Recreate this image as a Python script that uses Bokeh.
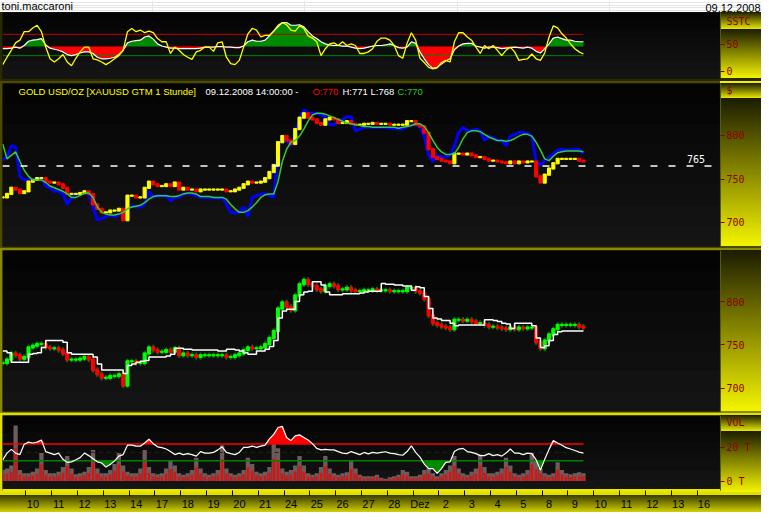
import numpy as np
from bokeh.plotting import figure
from bokeh.layouts import column
from bokeh.models import Range1d, FixedTicker, Label, BoxAnnotation, ColumnDataSource, Span
from bokeh.embed import file_html
from bokeh.resources import INLINE

# ---------------- data ----------------
day_labels = ["10", "11", "12", "13", "14", "17", "18", "19", "20", "21", "24", "25", "26",
              "27", "28", "Dez", "2", "3", "4", "5", "8", "9", "10", "11", "12", "13", "16"]

start_day = -0.9          # first bar, in trading days before "10"
step_hours = 4            # one value every 4 hours

close = [729, 733, 740, 738, 734, 736, 747, 749, 751, 751, 747, 746,
         746, 744, 740, 733, 733, 733, 734, 736, 733, 721, 716, 712,
         712, 714, 714, 716, 703, 731, 731, 729, 729, 740, 747, 744,
         742, 742, 744, 742, 746, 738, 740, 738, 738, 736, 738, 738,
         738, 738, 738, 738, 736, 736, 738, 740, 744, 747, 746, 746,
         747, 751, 758, 766, 792, 799, 794, 790, 807, 820, 825, 820,
         818, 814, 812, 818, 820, 818, 814, 814, 816, 813, 812, 812,
         813, 813, 814, 813, 813, 813, 812, 812, 812, 812, 816, 816,
         812, 810, 803, 784, 775, 773, 771, 770, 768, 779, 779, 778,
         779, 777, 775, 775, 773, 771, 771, 770, 769, 768, 770, 768,
         770, 769, 770, 770, 753, 746, 755, 762, 768, 773, 773, 773,
         773, 773, 771, 770]

blue_stop = [772, 775, 788, 786, 753, 749, 749, 749, 751, 751, 742, 740,
             736, 736, 733, 721, 729, 731, 733, 734, 733, 718, 703, 705,
             707, 709, 707, 709, 712, 718, 719, 718, 718, 721, 736, 729,
             731, 731, 731, 725, 729, 729, 733, 734, 733, 731, 729, 729,
             729, 729, 728, 729, 721, 712, 711, 712, 718, 707, 729, 731,
             733, 733, 731, 729, 784, 799, 794, 788, 803, 818, 829, 825,
             825, 825, 823, 821, 812, 812, 816, 818, 821, 821, 805, 807,
             809, 809, 809, 809, 809, 809, 808, 808, 807, 807, 810, 812,
             812, 810, 799, 777, 770, 777, 775, 775, 777, 788, 803, 809,
             805, 805, 807, 805, 794, 799, 797, 794, 794, 788, 799, 801,
             803, 803, 802, 799, 770, 766, 771, 775, 779, 783, 784, 783,
             783, 784, 784, 779]

green_ma = [790, 773, 777, 781, 770, 760, 753, 749, 749, 749, 746, 742,
            740, 738, 736, 733, 729, 729, 731, 734, 734, 729, 718, 712,
            710, 709, 709, 710, 712, 716, 718, 719, 720, 723, 727, 730,
            731, 731, 731, 730, 730, 731, 733, 734, 734, 733, 730, 730,
            730, 729, 729, 729, 727, 721, 716, 712, 712, 714, 718, 723,
            729, 732, 733, 733, 747, 770, 784, 792, 794, 799, 807, 816,
            823, 825, 825, 824, 822, 820, 818, 816, 814, 813, 812, 811,
            810, 810, 809, 809, 809, 809, 809, 809, 808, 809, 810, 811,
            813, 813, 810, 803, 794, 786, 781, 778, 778, 779, 786, 796,
            803, 805, 805, 804, 801, 798, 796, 794, 794, 793, 794, 796,
            799, 801, 801, 799, 792, 783, 773, 771, 776, 780, 781, 782,
            782, 782, 782, 781]

white_stop = [743, 741, 730, 730, 730, 730, 739, 740, 741, 747, 755, 755,
              755, 755, 753, 741, 739, 739, 739, 739, 739, 736, 728, 721,
              721, 721, 721, 721, 717, 726, 728, 730, 731, 732, 736, 736,
              736, 736, 737, 739, 746, 746, 745, 745, 744, 744, 744, 744,
              744, 744, 743, 743, 745, 745, 744, 743, 741, 739, 739, 743,
              743, 745, 748, 755, 781, 789, 791, 791, 800, 808, 811, 812,
              823, 823, 819, 811, 808, 808, 808, 809, 809, 809, 809, 810,
              811, 812, 812, 812, 821, 820, 820, 819, 819, 818, 818, 813,
              817, 816, 806, 792, 781, 780, 778, 778, 775, 772, 773, 773,
              773, 773, 773, 773, 779, 779, 778, 777, 775, 774, 769, 775,
              775, 775, 775, 772, 758, 747, 749, 755, 762, 765, 766, 766,
              766, 766, 766, 766]

sstc_fast = [13, 27, 40, 54, 59, 75, 75, 82, 87, 75, 46, 24,
             18, 24, 32, 18, 11, 25, 37, 46, 46, 24, 22, 18,
             13, 18, 24, 30, 40, 75, 81, 75, 78, 73, 76, 73,
             62, 56, 56, 34, 46, 40, 32, 27, 23, 37, 40, 46,
             46, 38, 54, 56, 27, 15, 13, 21, 46, 71, 81, 78,
             65, 68, 68, 76, 87, 92, 88, 78, 76, 86, 81, 67,
             63, 56, 30, 43, 52, 54, 49, 56, 49, 52, 49, 34,
             34, 37, 43, 57, 63, 63, 59, 49, 30, 25, 53, 73,
             59, 25, 17, 8, 5, 7, 17, 21, 18, 56, 73, 73,
             65, 59, 46, 34, 49, 43, 49, 40, 30, 40, 46, 37,
             21, 23, 24, 33, 24, 21, 35, 65, 86, 82, 71, 63,
             52, 43, 37, 33]

sstc_slow = [43, 43, 44, 46, 44, 49, 57, 59, 60, 62, 50, 44,
             42, 40, 37, 32, 30, 32, 35, 37, 37, 34, 27, 24,
             24, 25, 27, 32, 40, 54, 57, 58, 59, 65, 67, 61,
             52, 48, 46, 44, 44, 43, 43, 43, 43, 43, 44, 46,
             46, 46, 47, 47, 46, 46, 45, 45, 48, 56, 59, 57,
             57, 59, 67, 76, 84, 92, 92, 87, 87, 88, 84, 75,
             67, 62, 56, 52, 50, 49, 49, 48, 48, 46, 44, 43,
             44, 46, 48, 49, 49, 50, 52, 49, 45, 44, 46, 56,
             53, 37, 24, 13, 6, 8, 14, 20, 24, 41, 48, 52,
             53, 53, 48, 46, 44, 46, 46, 45, 43, 44, 45, 46,
             45, 44, 46, 44, 38, 35, 43, 52, 63, 65, 62, 59,
             59, 57, 56, 56]

volume_t = [6.5, 7.4, 9.2, 33, 6.5, 4.6, 4.6, 5.5, 7.4, 16.7, 6.5, 4.6,
            4.6, 5.5, 8.3, 14.8, 7.4, 4.1, 4.6, 5.5, 8.3, 18.5, 7.4, 4.6,
            4.6, 6.5, 10.1, 16.7, 9.2, 5.5, 4.6, 4.6, 7.4, 18.5, 8.3, 4.6,
            4.1, 4.6, 7.4, 12, 9.2, 4.6, 3.7, 4.6, 6.5, 13.9, 7.4, 4.6,
            3.7, 4.6, 6.5, 21.3, 7.4, 4.6, 3.7, 4.6, 6.5, 13.9, 10.1, 5.5,
            4.6, 5.5, 8.3, 22.2, 19.4, 7.4, 5.5, 6.5, 9.2, 14.8, 9.2, 4.6,
            3.7, 4.6, 8.3, 14.8, 7.4, 4.6, 3.7, 4.6, 5.2, 12, 7.4, 3.7,
            2.8, 2.8, 2.8, 3.7, 1.9, 1.4, 2.2, 2.8, 3.7, 6.5, 5.5, 2.8,
            2.8, 3.7, 6.5, 7.4, 4.6, 2.8, 4.6, 6.5, 9.2, 14.8, 7.4, 4.6,
            3.7, 5.5, 7.4, 15.7, 8.3, 4.6, 4.6, 5.5, 7.4, 13.9, 9.2, 4.6,
            3.7, 4.6, 6.5, 16.7, 12, 7.4, 4.6, 3.7, 4.6, 11.1, 6.5, 4.6,
            4.1, 4.6, 5.2, 4.6]

volume_avg = [12.6, 16.6, 18.8, 16.6, 15.7, 21.8, 23.1, 22.6, 23.1, 24.4, 17.5, 16.6,
              15.7, 16.6, 12.9, 11.1, 11.4, 12.6, 13.9, 16.6, 15.1, 13.3, 11.4, 10.7,
              8.3, 9.8, 12, 14.8, 15.7, 21.3, 21.3, 20.7, 20.7, 22.6, 24.8, 22.2,
              20.3, 19.8, 19, 17.5, 15.7, 16.6, 15.7, 16.3, 15.7, 14.8, 17.5, 16.6,
              16.6, 17, 18.5, 20.3, 17, 16.3, 15.7, 17, 20, 20, 20.7, 20,
              20.7, 21.3, 25, 27.7, 31.8, 32.4, 25.9, 24, 26.8, 27.4, 25.9, 24.4,
              22.2, 19.4, 18.5, 18.8, 18.5, 18.5, 17.5, 16.6, 16.3, 17.5, 16.6, 15.7,
              17, 16.1, 17, 16.6, 17, 17.4, 16.6, 16.3, 15.7, 15.3, 17.5, 20.9,
              17, 14.2, 10.1, 7.4, 7.4, 4.6, 7.4, 11.1, 11.4, 17.5, 19, 19.4,
              17.5, 17, 16.3, 15.1, 15.1, 16.3, 15.1, 15.7, 14.8, 16.6, 19, 16.6,
              16.6, 15.7, 16.6, 16.3, 12.6, 6.5, 12.9, 18.8, 24, 22.6, 21.3, 19.8,
              19, 18.1, 17.2, 16.6]

sstc_low, sstc_mid, sstc_high = 30, 47, 70
sstc_ticks = [0, 50]
price_ticks = [700, 750, 800]
price_marker = 765
vol_low, vol_mid, vol_high = 12, 17, 22
vol_ticks = [0, 20]
vol_tick_labels = ["0 T", "20 T"]

header_parts = [("GOLD USD/OZ [XAUUSD GTM  1 Stunde]", "#ffff00"),
                ("09.12.2008 14:00:00 -", "#ffffff"),
                ("O:770", "#ff0000"),
                ("H:771 L:768", "#ffffff"),
                ("C:770", "#22cc22")]

# ---------------- derived ----------------
n = len(close)
x = start_day + np.arange(n) * step_hours / 24.0
close_a = np.array(close, float)
prev = np.r_[close_a[0], close_a[:-1]]
up = close_a >= prev
bar_top = np.maximum(prev, close_a) + 0.7
bar_bot = np.minimum(prev, close_a) - 0.7

# ---------------- layout ----------------
W, LB, RB = 761, 2, 41
FW = W - LB - RB
xr = Range1d(-0.908, 26.91)
DARK, YEL, BOXY = "#1c1c00", "#f4f400", "#e8e800"


def mix(c1, c2, t):
    a = [int(c1[i:i + 2], 16) for i in (1, 3, 5)]
    b = [int(c2[i:i + 2], 16) for i in (1, 3, 5)]
    return "#%02x%02x%02x" % tuple(int(round(a[j] + (b[j] - a[j]) * t)) for j in range(3))


def frame_grad(p, fh, steps=8):
    for i in range(steps):
        ya = fh - fh * i / steps
        yb = fh - fh * (i + 1) / steps
        p.add_layout(BoxAnnotation(left=0, right=FW, top=ya + 0.5, bottom=yb - 0.5,
                                   left_units="screen", right_units="screen",
                                   top_units="screen", bottom_units="screen",
                                   fill_color=mix("#030303", "#151515", (i + 0.5) / steps),
                                   fill_alpha=1.0, line_color=None, level="image"))


def lg(c1, c2, pos):
    return "linear-gradient(%s, %s) %s no-repeat" % (c1, c2, pos)


def make_panel(h, yr, top, bottom, base, layers, xaxis=False):
    p = figure(width=W, height=h, x_range=xr, y_range=yr, output_backend="svg",
               toolbar_location=None, x_axis_location="below" if xaxis else None,
               y_axis_location="right", min_border_left=LB, min_border_right=RB,
               min_border_top=top, min_border_bottom=bottom,
               background_fill_color="#0c0c0c", border_fill_color=base,
               border_fill_alpha=0.0, outline_line_color=None)
    p.styles = {"background": ", ".join(layers + [base])}
    p.xgrid.visible = False
    p.ygrid.visible = False
    ax = p.yaxis[0]
    ax.axis_line_color = "#5a5a00"
    ax.major_tick_line_color = None
    ax.major_tick_out = 4
    ax.major_tick_in = 0
    ax.minor_tick_line_color = "#8b0000"
    ax.minor_tick_out = 4
    ax.minor_tick_in = 0
    ax.major_label_text_color = "#8b0000"
    ax.major_label_text_font = "DejaVu Sans Mono"
    ax.major_label_text_font_size = "10px"
    ax.major_label_standoff = 2
    fh = h - top - bottom
    frame_grad(p, fh)
    return p, fh


def axis_ticks(p, ticks, labels, title_at, title):
    p.yaxis.ticker = FixedTicker(ticks=list(ticks) + [title_at], minor_ticks=list(ticks))
    ov = {t: lab for t, lab in zip(ticks, labels)}
    ov[title_at] = title
    p.yaxis.major_label_overrides = ov


# title bar
pt = figure(width=W, height=12, x_range=Range1d(0, 1), y_range=Range1d(0, 1),
            output_backend="svg", toolbar_location=None, x_axis_location=None,
            y_axis_location=None, min_border=0, min_border_left=0, min_border_right=0,
            min_border_top=0, min_border_bottom=0, background_fill_color="white",
            border_fill_color="white", outline_line_color=None, frame_align=False)
pt.add_layout(Label(x=1, y=1, x_units="screen", y_units="screen", text="toni.maccaroni",
                    text_font="Liberation Sans", text_font_size="11px", text_color="black",
                    text_baseline="bottom"))
pt.add_layout(Label(x=W - 1, y=1, x_units="screen", y_units="screen", text="09.12.2008",
                    text_font="Liberation Sans", text_font_size="11px", text_color="black",
                    text_baseline="bottom", text_align="right"))

# ---- panel 1: SSTC ----
p1, fh1 = make_panel(69, Range1d(-13, 111), 0, 3, "#2a2a00",
                     [lg(DARK, BOXY, "right 0 top 0 / 41px 17px"),
                      lg(DARK, YEL, "right 0 top 17px / 41px 49px")])
axis_ticks(p1, sstc_ticks, [str(t) for t in sstc_ticks], 94, "SSTC")
slow = np.array(sstc_slow, float)
p1.varea(x=x, y1=sstc_mid, y2=np.maximum(slow, sstc_mid), fill_color="#008a00")
p1.varea(x=x, y1=np.minimum(slow, sstc_mid), y2=sstc_mid, fill_color="#ff0000")
p1.line([x[0], x[-1]], [sstc_high, sstc_high], line_color="#c00000", line_width=1)
p1.line([x[0], x[-1]], [sstc_low, sstc_low], line_color="#008000", line_width=1)
p1.line(x, sstc_slow, line_color="white", line_width=1.2)
p1.line(x, sstc_fast, line_color="#ffff00", line_width=1.3)

# ---- panel 2: price with stops ----
p2, fh2 = make_panel(167, Range1d(673, 859), 2, 2, "#4a4a00",
                     [lg("#f0f000", "#f0f000", "right 0 top 0 / 41px 2px"),
                      lg(DARK, BOXY, "right 0 top 2px / 41px 15px"),
                      lg(DARK, YEL, "right 0 top 17px / 41px 148px")])
axis_ticks(p2, price_ticks, [str(t) for t in price_ticks], 851, "$")
src2 = ColumnDataSource(dict(x=x, top=bar_top, bottom=bar_bot,
                             color=np.where(up, "#ffff00", "#ff0000")))
p2.line(x, blue_stop, line_color="#0000ff", line_width=3)
p2.vbar(x="x", width=0.12, top="top", bottom="bottom", fill_color="color",
        line_color="color", source=src2)
p2.line(x, green_ma, line_color="#33cc33", line_width=1.5)
p2.add_layout(Span(location=price_marker, dimension="width", line_color="white",
                   line_width=1.5, line_dash="7 11"))
p2.add_layout(Label(x=xr.end - 1.3, y=price_marker, text=str(price_marker), text_color="white",
                    text_font="DejaVu Sans Mono", text_font_size="10px", y_offset=3,
                    text_baseline="bottom"))
hx = [16, 203, 310, 340, 395]
for (txt, col), hxx in zip(header_parts, hx):
    p2.add_layout(Label(x=hxx, y=fh2 - 8, x_units="screen", y_units="screen", text=txt,
                        text_color=col, text_font="Liberation Sans", text_font_size="9.5px",
                        text_baseline="middle"))

# ---- panel 3: price with trailing line ----
p3, fh3 = make_panel(165, Range1d(673, 859), 2, 2, "#8a8a00",
                     [lg(DARK, YEL, "right 0 top 2px / 41px 161px")])
p3.yaxis.ticker = FixedTicker(ticks=price_ticks, minor_ticks=price_ticks)
src3 = ColumnDataSource(dict(x=x, top=bar_top, bottom=bar_bot, wt=bar_top + 2, wb=bar_bot - 2,
                             color=np.where(up, "#00ff00", "#ff0000")))
p3.vbar(x="x", width=0.04, top="wt", bottom="wb", fill_color="#007000", line_color="#007000",
        source=src3)
p3.vbar(x="x", width=0.12, top="top", bottom="bottom", fill_color="color",
        line_color="color", source=src3)
p3.step(x, white_stop, mode="after", line_color="white", line_width=1.5)

# ---- panel 4: volume ----
p4, fh4 = make_panel(99, Range1d(-5.6, 38.9), 2, 20, "#e0e000",
                     [lg(DARK, BOXY, "right 0 top 2px / 41px 16px"),
                      lg(DARK, YEL, "right 0 top 18px / 41px 61px"),
                      lg("#3a3a00", "#d0d000", "left 0 bottom 0 / 100% 17px")],
                     xaxis=True)
axis_ticks(p4, vol_ticks, vol_tick_labels, 35, "VOL")
vol = np.array(volume_t, float)
vavg = np.array(volume_avg, float)
p4.vbar(x=x, width=1 / 6, top=vol, bottom=0, fill_color="#6e5c5c", line_color=None)
p4.vbar(x=x, width=0.1, top=vol * 0.6, bottom=0, fill_color="#e01010", line_color=None)
p4.varea(x=x, y1=vol_high, y2=np.maximum(vavg, vol_high), fill_color="#ff0000")
p4.varea(x=x, y1=np.minimum(vavg, vol_low), y2=vol_low, fill_color="#008a00")
p4.line([x[0], x[-1]], [vol_high, vol_high], line_color="#ff0000", line_width=1.5)
p4.line([x[0], x[-1]], [vol_low, vol_low], line_color="#008000", line_width=1.5)
p4.line([x[0], x[-1]], [vol_mid, vol_mid], line_color="#202020", line_width=1, line_dash="4 4")
p4.line(x, volume_avg, line_color="white", line_width=1.2)
xa = p4.xaxis[0]
ticks = [round(i + 0.27, 2) for i in range(len(day_labels))]
xa.ticker = FixedTicker(ticks=ticks, minor_ticks=list(range(len(day_labels))))
xa.major_label_overrides = {t: lab for t, lab in zip(ticks, day_labels)}
xa.major_tick_line_color = None
xa.major_tick_out = 2
xa.minor_tick_line_color = "black"
xa.minor_tick_out = 5
xa.minor_tick_in = 0
xa.axis_line_color = "#e8e800"
xa.axis_line_width = 3
xa.major_label_text_color = "black"
xa.major_label_text_font = "Liberation Sans"
xa.major_label_text_font_size = "11px"
xa.major_label_standoff = 2

layout = column(pt, p1, p2, p3, p4, spacing=0)
open("out.html", "w").write(file_html(layout, INLINE))
